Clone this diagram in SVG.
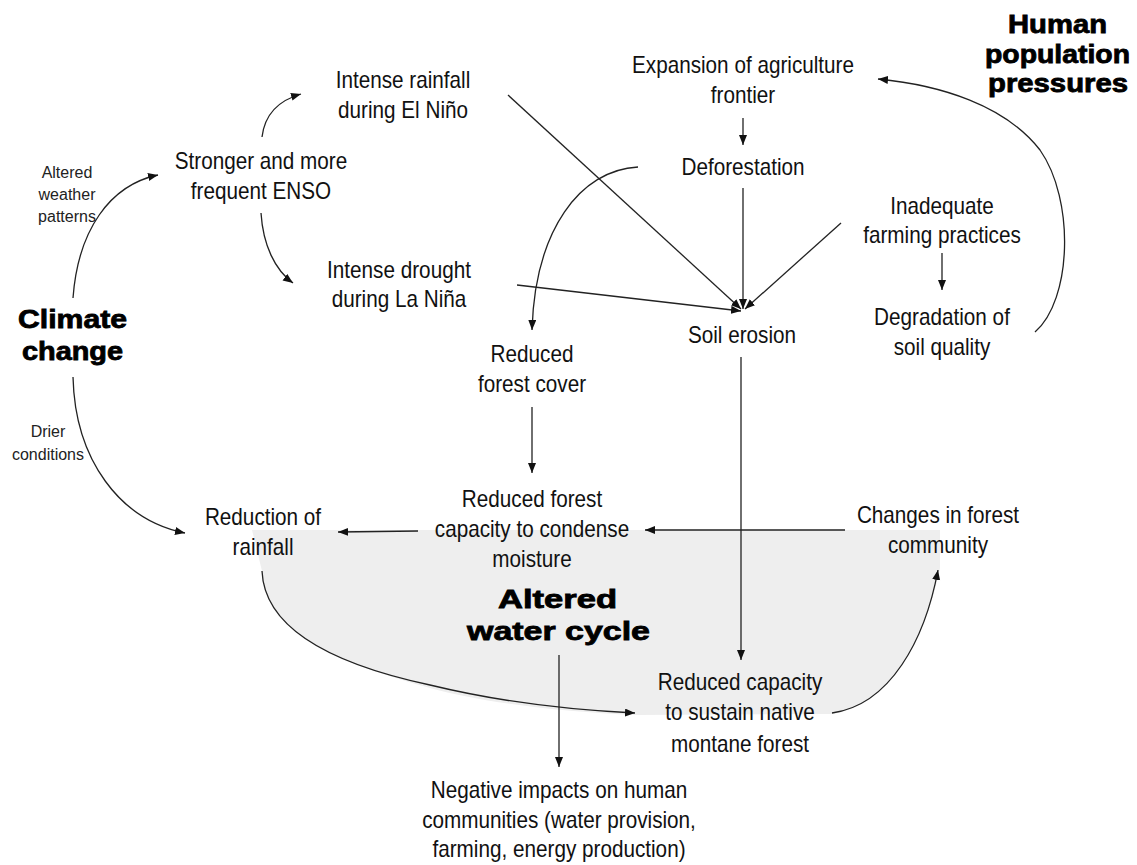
<svg xmlns="http://www.w3.org/2000/svg" width="1137" height="865" viewBox="0 0 1137 865">
<style>
.t{font-family:"Liberation Sans",Arial,sans-serif;font-size:23px;fill:#111;text-anchor:middle}
.s{font-family:"Liberation Sans",Arial,sans-serif;font-size:16px;fill:#222;text-anchor:middle}
.b{font-family:"Liberation Sans",Arial,sans-serif;font-size:25px;font-weight:bold;fill:#000;stroke:#000;stroke-width:0.8px}
.c{fill:none;stroke:#222;stroke-width:1.3px}
</style>
<defs>
<marker id="ah" markerUnits="userSpaceOnUse" markerWidth="11" markerHeight="9" refX="10" refY="4" orient="auto">
<path d="M0,0 L10,4 L0,8 z" fill="#111"/>
</marker>
</defs>
<rect width="1137" height="865" fill="#fff"/>
<path id="water-region" d="M252,530 L940,530 L940,568 C 925,640 890,705 832,714 L635,715 C 560,712 480,702 430,688 C 360,668 265,640 262,571 Z" fill="#eeeeee"/>
<g id="connectors">
<path class="c" d="M73,298 C 78,230 110,185 158,175" marker-end="url(#ah)"/>
<path class="c" d="M262,137 C 265,112 280,100 301,94" marker-end="url(#ah)"/>
<path class="c" d="M261,213 C 263,245 275,270 293,283" marker-end="url(#ah)"/>
<path class="c" d="M73,377 C 75,460 120,520 185,533" marker-end="url(#ah)"/>
<path class="c" d="M508,95 L741,309" marker-end="url(#ah)"/>
<path class="c" d="M517,285 L741,311" marker-end="url(#ah)"/>
<path class="c" d="M743,188 L743,309" marker-end="url(#ah)"/>
<path class="c" d="M841,223 L745,309" marker-end="url(#ah)"/>
<path class="c" d="M743,118 L743,145" marker-end="url(#ah)"/>
<path class="c" d="M638,167 C 580,170 535,230 532,330" marker-end="url(#ah)"/>
<path class="c" d="M532,407 L532,473" marker-end="url(#ah)"/>
<path class="c" d="M942,253 L942,290" marker-end="url(#ah)"/>
<path class="c" d="M1035,332 C 1072,300 1075,200 1040,150 C 1005,105 940,85 878,79" marker-end="url(#ah)"/>
<path class="c" d="M741,357 L741,660" marker-end="url(#ah)"/>
<path class="c" d="M845,530 L645,530" marker-end="url(#ah)"/>
<path class="c" d="M418,531 L338,532" marker-end="url(#ah)"/>
<path class="c" d="M262,571 C 265,640 360,670 430,685 C 500,702 570,710 635,713" marker-end="url(#ah)"/>
<path class="c" d="M832,713 C 890,705 925,640 938,570" marker-end="url(#ah)"/>
<path class="c" d="M559,655 L559,767" marker-end="url(#ah)"/>
</g>
<g id="n-elnino"><text class="t" transform="translate(403,88) scale(0.9,1)"><tspan x="0">Intense rainfall</tspan><tspan x="0" dy="30">during El Niño</tspan></text></g>
<g id="n-expansion"><text class="t" transform="translate(743,73) scale(0.9,1)"><tspan x="0">Expansion of agriculture</tspan><tspan x="0" dy="30">frontier</tspan></text></g>
<g id="n-human"><text class="b" x="1008" y="33" textLength="99" lengthAdjust="spacingAndGlyphs">Human</text><text class="b" x="985" y="63" textLength="145" lengthAdjust="spacingAndGlyphs">population</text><text class="b" x="988" y="92" textLength="140" lengthAdjust="spacingAndGlyphs">pressures</text></g>
<g id="n-altered-weather"><text class="s" x="67" y="178">Altered</text><text class="s" x="67" y="200">weather</text><text class="s" x="67" y="222">patterns</text></g>
<g id="n-enso"><text class="t" transform="translate(261,169) scale(0.9,1)"><tspan x="0">Stronger and more</tspan><tspan x="0" dy="30">frequent ENSO</tspan></text></g>
<g id="n-deforestation"><text class="t" transform="translate(743,175) scale(0.9,1)">Deforestation</text></g>
<g id="n-inadequate"><text class="t" transform="translate(942,214) scale(0.9,1)"><tspan x="0">Inadequate</tspan><tspan x="0" dy="29">farming practices</tspan></text></g>
<g id="n-degradation"><text class="t" transform="translate(942,325) scale(0.9,1)"><tspan x="0">Degradation of</tspan><tspan x="0" dy="30">soil quality</tspan></text></g>
<g id="n-lanina"><text class="t" transform="translate(399,278) scale(0.9,1)"><tspan x="0">Intense drought</tspan><tspan x="0" dy="29">during La Niña</tspan></text></g>
<g id="n-climate"><text class="b" x="18" y="328" textLength="109" lengthAdjust="spacingAndGlyphs">Climate</text><text class="b" x="22" y="360" textLength="101" lengthAdjust="spacingAndGlyphs">change</text></g>
<g id="n-soil-erosion"><text class="t" transform="translate(742,343) scale(0.9,1)">Soil erosion</text></g>
<g id="n-reduced-cover"><text class="t" transform="translate(532,362) scale(0.9,1)"><tspan x="0">Reduced</tspan><tspan x="0" dy="30">forest cover</tspan></text></g>
<g id="n-drier"><text class="s" x="48" y="437">Drier</text><text class="s" x="48" y="460">conditions</text></g>
<g id="n-condense"><text class="t" transform="translate(532,507) scale(0.9,1)"><tspan x="0">Reduced forest</tspan><tspan x="0" dy="30">capacity to condense</tspan><tspan x="0" dy="30">moisture</tspan></text></g>
<g id="n-reduction-rainfall"><text class="t" transform="translate(263,525) scale(0.9,1)"><tspan x="0">Reduction of</tspan><tspan x="0" dy="30">rainfall</tspan></text></g>
<g id="n-changes"><text class="t" transform="translate(938,523) scale(0.9,1)"><tspan x="0">Changes in forest</tspan><tspan x="0" dy="30">community</tspan></text></g>
<g id="n-water-cycle"><text class="b" x="498" y="608" textLength="119" lengthAdjust="spacingAndGlyphs">Altered</text><text class="b" x="467" y="640" textLength="183" lengthAdjust="spacingAndGlyphs">water cycle</text></g>
<g id="n-reduced-capacity"><text class="t" transform="translate(740,690) scale(0.9,1)"><tspan x="0">Reduced capacity</tspan><tspan x="0" dy="30">to sustain native</tspan><tspan x="0" dy="32">montane forest</tspan></text></g>
<g id="n-negative"><text class="t" transform="translate(559,798) scale(0.9,1)"><tspan x="0">Negative impacts on human</tspan><tspan x="0" dy="30">communities (water provision,</tspan><tspan x="0" dy="29">farming, energy production)</tspan></text></g>
</svg>
